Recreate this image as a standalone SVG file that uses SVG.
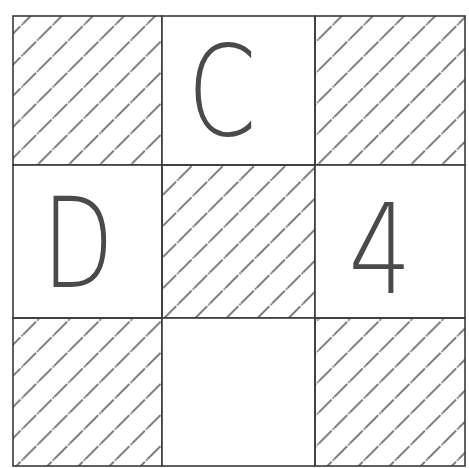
<svg xmlns="http://www.w3.org/2000/svg" width="469" height="468" viewBox="0 0 469 468">
<defs>
<pattern id="hatch" patternUnits="userSpaceOnUse" width="22" height="22" patternTransform="rotate(-45)">
<line x1="0" y1="11" x2="22" y2="11" stroke="#555" stroke-width="1.4" stroke-dasharray="18 1.5 2 0.5"/>
</pattern>
</defs>
<style>
.cell{stroke:#3a3a3a;stroke-width:1.6;}
.h{fill:url(#hatch);}
.b{fill:#fff;}
.t{font-family:"DejaVu Sans","Liberation Sans",sans-serif;font-weight:200;fill:#4a4a4a;text-anchor:middle;}
</style>
<rect width="469" height="468" fill="#fff"/>
<g id="cell-1-1"><rect class="cell h" x="13" y="16" width="149" height="149"/></g>
<g id="cell-1-2"><rect class="cell b" x="162" y="16" width="153" height="149"/><text class="t" x="222" y="135" font-size="124" transform="translate(222 0) scale(0.8 1) translate(-222 0)">C</text></g>
<g id="cell-1-3"><rect class="cell h" x="315" y="16" width="150" height="149"/></g>
<g id="cell-2-1"><rect class="cell b" x="13" y="165" width="149" height="153"/><text class="t" x="78" y="287" font-size="124" transform="translate(78 0) scale(0.75 1) translate(-78 0)">D</text></g>
<g id="cell-2-2"><rect class="cell h" x="162" y="165" width="153" height="153"/></g>
<g id="cell-2-3"><rect class="cell b" x="315" y="165" width="150" height="153"/><text class="t" x="380" y="293" font-size="124" transform="translate(380 0) scale(0.8 1) translate(-380 0)">4</text></g>
<g id="cell-3-1"><rect class="cell h" x="13" y="318" width="149" height="148"/></g>
<g id="cell-3-2"><rect class="cell b" x="162" y="318" width="153" height="148"/></g>
<g id="cell-3-3"><rect class="cell h" x="315" y="318" width="150" height="148"/></g>
<g id="connectors"></g>
</svg>
